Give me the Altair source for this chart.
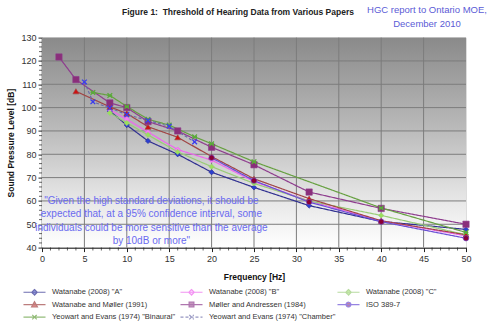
import altair as alt
import pandas as pd

FONT = "Liberation Sans"

SERIES = ['Watanabe (2008) "A"', 'Watanabe (2008) "B"', 'Watanabe (2008) "C"',
          'Watanabe and Møller (1991)', 'Møller and Andressen (1984)', 'ISO 389-7',
          'Yeowart and Evans (1974) "Binaural"', 'Yeowart and Evans (1974) "Chamber"']

wa_f = [8, 10, 12.5, 16, 20, 25, 31.5, 40, 50]
wa_db = [98.5, 92.5, 85.7, 80.0, 72.3, 65.8, 58.0, 51.2, 47.8]
wb_f = [8, 10, 12.5, 16, 20, 25, 31.5, 40, 50]
wb_db = [99.0, 95.0, 89.5, 82.0, 77.5, 68.3, 60.0, 51.5, 45.0]
wc_f = [8, 10, 12.5, 16, 20, 25, 31.5, 40, 50]
wc_db = [97.7, 93.4, 88.3, 81.0, 74.7, 67.5, 60.0, 53.8, 45.5]
wm_f = [4, 8, 10, 12.5, 16, 20, 25, 31.5, 40, 50]
wm_db = [107.0, 100.3, 97.5, 91.8, 87.3, 79.0, 69.5, 61.0, 51.5, 45.5]
ma_f = [2, 4, 8, 10, 12.5, 16, 20, 25, 31.5, 40, 50]
ma_db = [121.7, 112.0, 102.0, 100.0, 94.0, 90.0, 83.0, 75.5, 63.8, 56.8, 50.0]
iso_f = [20, 25, 31.5, 40, 50]
iso_db = [78.5, 68.7, 59.5, 51.1, 44.0]
yb_f = [6, 8, 10, 12.5, 15, 18, 20, 25, 40, 50]
yb_db = [106.5, 105.2, 100.5, 95.0, 92.5, 87.5, 84.5, 76.8, 57.0, 46.5]
yc_f = [5, 6, 8, 10, 12.5, 15, 18]
yc_db = [111.0, 102.5, 99.8, 97.0, 94.5, 92.0, 85.3]

FREQS = [wa_f, wb_f, wc_f, wm_f, ma_f, iso_f, yb_f, yc_f]
DBS = [wa_db, wb_db, wc_db, wm_db, ma_db, iso_db, yb_db, yc_db]

x_major = [0, 5, 10, 15, 20, 25, 30, 35, 40, 45, 50]
y_major = [40, 50, 60, 70, 80, 90, 100, 110, 120, 130]
x_grid = [5, 10, 15, 20, 25, 30, 35, 40, 45]
y_grid = [50, 60, 70, 80, 90, 100, 110, 120]
x_minor = [v for v in range(1, 50) if v % 5 != 0]
y_minor = [v for v in range(42, 130, 2) if v % 10 != 0]

quote_lines = ['"Given the high standard deviations, it should be',
               'expected that, at a 95% confidence interval, some',
               'individuals could be more sensitive than the average',
               'by 10dB or more"']
quote_f = [12.9, 12.9, 12.9, 12.9]
quote_db = [60.0, 54.3, 48.5, 42.7]

TITLE = 'Figure 1:\u00a0 Threshold of Hearing Data from Various Papers'
note_lines = ['HGC report to Ontario MOE,', 'December 2010']

LINE_COLORS = ['#2f2f90', '#ee66ee', '#99cc77', '#a04545', '#8e3d8e', '#6a4fd6', '#66a040', '#6a6aa8']
MARK_COLORS = ['#2b3fd0', '#f27ff2', '#9ae05a', '#cc1111', '#8a2f7a', '#8b0035', '#5aaa3a', '#3a3af0']
LEG_FILLS = ['#2b3fd0', '#ffc0ff', '#9ae05a', '#cc1111', '#8a2f7a', '#8b0035', '#5aaa3a', '#3a3af0']
DASHES = [[1, 0]] * 7 + [[3, 2]]

XPATH = "M-1,-1L1,1M-1,1L1,-1"
STAR = "M-1,-1L1,1M-1,1L1,-1M-1,0H1"
PT_SHAPES = ['diamond', 'diamond', 'diamond', 'triangle-up', 'square', 'circle', STAR, XPATH]
PT_FILLED = [True, True, True, True, True, True, False, False]
PT_SIZES = [28, 28, 28, 36, 40, 30, 22, 22]

L = "M-3,0H3"
LEG_PATHS = [
    L + "M0,-0.75L0.75,0L0,0.75L-0.75,0Z",
    L + "M0,-0.75L0.75,0L0,0.75L-0.75,0Z",
    L + "M0,-0.75L0.75,0L0,0.75L-0.75,0Z",
    L + "M0,-0.8L0.8,0.65L-0.8,0.65Z",
    L + "M-0.65,-0.65H0.65V0.65H-0.65Z",
    L + "M-0.65,0A0.65,0.65,0,1,1,0.65,0A0.65,0.65,0,1,1,-0.65,0Z",
    L + "M-0.6,-0.6L0.6,0.6M-0.6,0.6L0.6,-0.6M-0.6,0H0.6",
    L + "M-0.6,-0.6L0.6,0.6M-0.6,0.6L0.6,-0.6",
]

rows = []
for name, fs, ds in zip(SERIES, FREQS, DBS):
    for f, d in zip(fs, ds):
        rows.append({"series": name, "f": f, "db": d})
df = pd.DataFrame(rows)

W, H = 424, 210
xs = alt.Scale(domain=[0, 50], nice=False, zero=False)
ys = alt.Scale(domain=[40, 130], nice=False, zero=False)

AX = alt.Axis(values=x_major, tickSize=4, labelPadding=3, labelFontSize=9, labelColor='#333',
              labelFont=FONT, domainColor='#222', domainWidth=1.5, tickColor='#222', grid=False,
              title='Frequency [Hz]', titleFont=FONT, titleFontSize=8.5, titleFontWeight='bold',
              titleColor='#111', titlePadding=9, labelFlush=False)
AY = alt.Axis(values=y_major, tickSize=4, labelPadding=2, labelFontSize=9, labelColor='#333',
              labelFont=FONT, domainColor='#222', domainWidth=1.5, tickColor='#222', grid=False,
              title='Sound Pressure Level [dB]', titleFont=FONT, titleFontSize=8.5,
              titleFontWeight='bold', titleColor='#111', titlePadding=5)


def X(field='f'):
    return alt.X(f'{field}:Q', scale=xs, axis=AX)


def Y(field='db'):
    return alt.Y(f'{field}:Q', scale=ys, axis=AY)


bg = alt.Chart(pd.DataFrame({'k': [0]})).mark_rect(
    color=alt.LinearGradient(gradient='linear', x1=0, x2=0, y1=0, y2=1, stops=[
        alt.GradientStop(offset=0, color='#8a8a8a'),
        alt.GradientStop(offset=0.45, color='#bcbcbc'),
        alt.GradientStop(offset=0.75, color='#e4e4e4'),
        alt.GradientStop(offset=1, color='#ffffff')])
).encode(x=alt.value(0), x2=alt.value(W), y=alt.value(0), y2=alt.value(H))

vgrid = alt.Chart(pd.DataFrame({'f': x_grid})).mark_rule(color='#7c7c7c', strokeWidth=1).encode(x=X())
hgrid = alt.Chart(pd.DataFrame({'db': y_grid})).mark_rule(color='#7c7c7c', strokeWidth=1).encode(y=Y())

xminor = alt.Chart(pd.DataFrame({'f': x_minor})).mark_tick(
    orient='vertical', size=3, thickness=1, color='#222', yOffset=1.5
).encode(x=X(), y=alt.Y(datum=40, scale=ys, axis=AY))
yminor = alt.Chart(pd.DataFrame({'db': y_minor})).mark_tick(
    orient='horizontal', size=3, thickness=1, color='#222', xOffset=-1.5
).encode(y=Y(), x=alt.X(datum=0, scale=xs, axis=AX))

layers = [bg, vgrid, hgrid]
for i, name in enumerate(SERIES):
    sub = alt.Chart(df).transform_filter(alt.datum.series == name)
    layers.append(sub.mark_line(color=LINE_COLORS[i], strokeWidth=1.2,
                                strokeDash=DASHES[i]).encode(x=X(), y=Y()))
for i, name in enumerate(SERIES):
    sub = alt.Chart(df).transform_filter(alt.datum.series == name)
    if PT_FILLED[i]:
        m = sub.mark_point(shape=PT_SHAPES[i], filled=True, size=PT_SIZES[i],
                           fill=MARK_COLORS[i], stroke=LINE_COLORS[i], strokeWidth=0.6, opacity=1)
    else:
        m = sub.mark_point(shape=PT_SHAPES[i], filled=False, size=PT_SIZES[i],
                           stroke=MARK_COLORS[i], strokeWidth=1.3, opacity=1)
    layers.append(m.encode(x=X(), y=Y()))

LEG = alt.Legend(orient='none', legendX=-20, legendY=250, columns=3, direction='horizontal',
                 title=None, labelFont=FONT, labelFontSize=7.5, labelColor='#333',
                 symbolSize=54, symbolOffset=8, labelOffset=13, symbolStrokeWidth=1.2,
                 rowPadding=1.5, columnPadding=-7, gridAlign='all', padding=0, labelLimit=200)

legend_layer = alt.Chart(df).transform_filter('false').mark_point(filled=True, strokeWidth=1.2).encode(
    x=X(), y=Y(),
    shape=alt.Shape('series:N', scale=alt.Scale(domain=SERIES, range=LEG_PATHS), legend=LEG),
    fill=alt.Fill('series:N', scale=alt.Scale(domain=SERIES, range=LEG_FILLS), legend=LEG),
    stroke=alt.Stroke('series:N', scale=alt.Scale(domain=SERIES, range=LINE_COLORS), legend=LEG),
    strokeDash=alt.StrokeDash('series:N', scale=alt.Scale(domain=SERIES, range=DASHES), legend=LEG),
)

qdf = pd.DataFrame({'txt': quote_lines, 'f': quote_f, 'db': quote_db})
quote = alt.Chart(qdf).mark_text(font=FONT, fontSize=10, color='#6a6af0', baseline='middle',
                                 align='center').encode(x=X(), y=Y(), text='txt:N')

texts = []
texts.append(alt.Chart(pd.DataFrame({'k': [0]})).mark_text(
    text=TITLE, font=FONT, fontSize=8.5, fontWeight='bold', color='#222', align='center',
    baseline='middle').encode(x=alt.value(196), y=alt.value(-25.5)))
for t, yy in zip(note_lines, [-27.5, -14.0]):
    texts.append(alt.Chart(pd.DataFrame({'k': [0]})).mark_text(
        text=t, font=FONT, fontSize=9.5, color='#5b5bd6', align='center', baseline='middle'
    ).encode(x=alt.value(385), y=alt.value(yy)))

layers += [xminor, yminor, quote, legend_layer] + texts

chart = alt.layer(*layers).properties(
    width=W, height=H,
    autosize=alt.AutoSizeParams(type='none'),
    padding={'left': 42, 'top': 37.6, 'right': 34, 'bottom': 81.4},
).configure_view(stroke='#6a6a6a', strokeWidth=1).configure(background='white')

chart.save("out.html", embed_options={"renderer": "svg", "actions": False})
